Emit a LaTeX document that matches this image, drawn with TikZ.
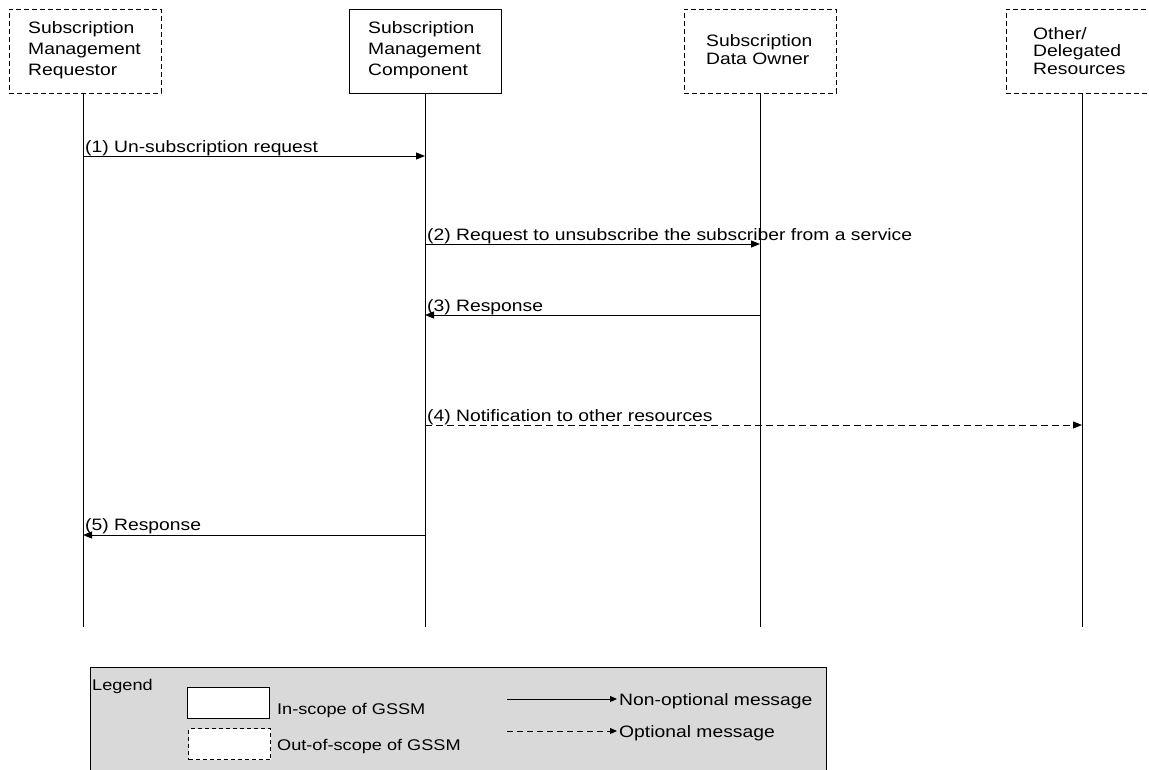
\documentclass[tikz,border=0pt]{standalone}
\usepackage{fontspec}
\setmainfont[FakeStretch=1.17]{Liberation Sans}
\usetikzlibrary{arrows.meta}
\begin{document}
\begin{tikzpicture}[x=1pt,y=-1pt,
  font=\fontsize{16.5}{16.5}\selectfont,
  actor/.style={draw,line width=1pt,minimum width=152pt,minimum height=84pt,inner sep=0pt},
  outscope/.style={actor,dash pattern=on 5pt off 3pt},
  wide/.style={anchor=base west,align=left,inner sep=0pt,font=\fontsize{16.5}{21}\selectfont},
  narrow/.style={anchor=base west,align=left,inner sep=0pt,font=\fontsize{16.5}{17.5}\selectfont},
  lifeline/.style={line width=1pt},
  msg/.style={line width=1pt,-{Triangle[length=9pt,width=7pt]}},
  optmsg/.style={msg,dash pattern=on 7pt off 4pt},
  lbl/.style={anchor=base west,inner sep=0pt},
  legsmall/.style={anchor=base west,inner sep=0pt,font=\fontsize{15.5}{15.5}\selectfont}]
\useasboundingbox (0,0) rectangle (1149,769);
\clip (0,0) rectangle (1149,769);
% actors
\node[outscope] (A) at (85,51) {};
\node[wide] (At) at (28,75) {Subscription\\Management\\Requestor};
\node[actor] (B) at (425,51) {};
\node[wide] (Bt) at (368,75) {Subscription\\Management\\Component};
\node[outscope] (C) at (760,51) {};
\node[narrow] (Ct) at (706,64) {Subscription\\Data Owner};
\node[outscope] (D) at (1082,51) {};
\node[narrow] (Dt) at (1033,74) {Other/\\Delegated\\Resources};
% lifeline ends
\coordinate (Ae) at (83,627);
\coordinate (Be) at (425,627);
\coordinate (Ce) at (760,627);
\coordinate (De) at (1082,627);
\draw[lifeline] (A.south -| Ae) -- (Ae);
\draw[lifeline] (B.south) -- (Be);
\draw[lifeline] (C.south) -- (Ce);
\draw[lifeline] (D.south) -- (De);
% messages
\coordinate (m1a) at (83,156); \coordinate (m1b) at (425,156);
\draw[msg] (m1a) -- (m1b);
\node[lbl] (l1) at (85,152) {(1) Un-subscription request};
\coordinate (m2a) at (425,244); \coordinate (m2b) at (760,244);
\draw[msg] (m2a) -- (m2b);
\node[lbl] (l2) at (427,240) {(2) Request to unsubscribe the subscriber from a service};
\coordinate (m3a) at (760,315); \coordinate (m3b) at (425,315);
\draw[msg] (m3a) -- (m3b);
\node[lbl] (l3) at (427,311) {(3) Response};
\coordinate (m4a) at (425,425); \coordinate (m4b) at (1082,425);
\draw[optmsg] (m4a) -- (m4b);
\node[lbl] (l4) at (427,421) {(4) Notification to other resources};
\coordinate (m5a) at (425,535); \coordinate (m5b) at (83,535);
\draw[msg] (m5a) -- (m5b);
\node[lbl] (l5) at (85,530) {(5) Response};
% legend
\node[draw,line width=1pt,fill=black!15,minimum width=736pt,minimum height=110pt,anchor=north west,inner sep=0pt] (leg) at (90,667) {};
\node[legsmall] (legt) at (92,690) {Legend};
\node[draw,line width=1pt,fill=white,minimum width=82pt,minimum height=31pt,anchor=north west,inner sep=0pt] (ins) at (187,687) {};
\node[legsmall] (inst) at (277,714) {In-scope of GSSM};
\node[draw,line width=1pt,fill=white,dash pattern=on 4pt off 3pt,minimum width=82pt,minimum height=31pt,anchor=north west,inner sep=0pt] (outs) at (188,728) {};
\node[legsmall] (outst) at (277,750) {Out-of-scope of GSSM};
\coordinate (la1) at (507,699); \coordinate (lb1) at (617,699);
\draw[line width=1pt,-{Triangle[length=7pt,width=6pt]}] (la1) -- (lb1);
\node[lbl] (nt) at (619,705) {Non-optional message};
\coordinate (la2) at (507,731); \coordinate (lb2) at (617,731);
\draw[line width=1pt,dash pattern=on 6pt off 4pt,-{Triangle[length=7pt,width=6pt]}] (la2) -- (lb2);
\node[lbl] (ot) at (619,737) {Optional message};
\end{tikzpicture}
\end{document}
